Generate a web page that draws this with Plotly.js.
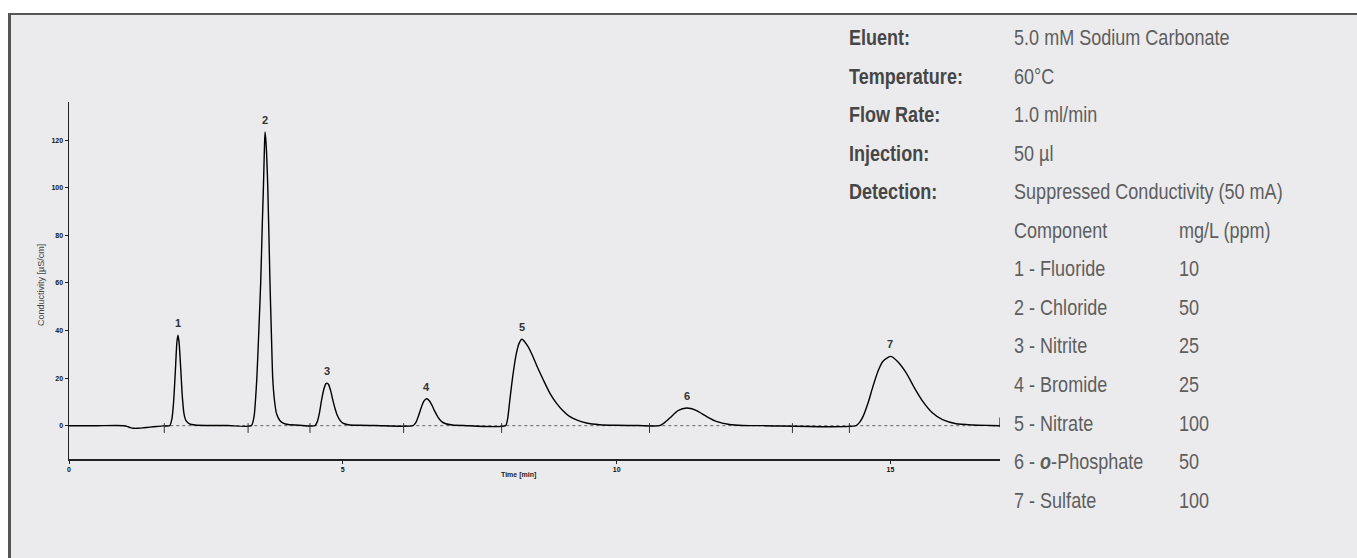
<!DOCTYPE html>
<html>
<head>
<meta charset="utf-8">
<script src="https://cdn.plot.ly/plotly-3.0.1.min.js"></script>
<style>html,body{margin:0;padding:0;background:#fff;}#chart{width:1357px;height:558px;}</style>
</head>
<body>
<div id="chart"></div>
<script>
// ---- Data ----
const timeMin = [
  0, 0.5, 1.0, 1.06, 1.12, 1.18, 1.26, 1.36, 1.48, 1.6, 1.72, 1.84,
  1.88, 1.91, 1.94, 1.97, 1.99, 2.01, 2.04, 2.07, 2.10, 2.14, 2.20, 2.30, 2.50, 2.9, 3.33,
  3.38, 3.43, 3.47, 3.50, 3.53, 3.55, 3.57, 3.58, 3.60, 3.63, 3.67, 3.70, 3.72, 3.75, 3.79, 3.85, 3.92, 4.00, 4.20, 4.49,
  4.53, 4.57, 4.61, 4.65, 4.69, 4.71, 4.74, 4.78, 4.82, 4.86, 4.90, 4.95, 5.00, 5.10, 5.30, 5.60, 6.28,
  6.33, 6.38, 6.43, 6.48, 6.53, 6.58, 6.63, 6.68, 6.74, 6.80, 6.88, 7.00, 7.20, 7.97,
  8.01, 8.05, 8.11, 8.17, 8.22, 8.27, 8.38, 8.47, 8.56, 8.66, 8.78, 8.90, 9.02, 9.14, 9.29, 9.45, 9.69, 10.0, 10.4, 10.78,
  10.87, 10.97, 11.12, 11.28, 11.45, 11.64, 11.82, 12.06, 12.30, 12.70, 14.37,
  14.44, 14.50, 14.59, 14.68, 14.77, 14.86, 15.00, 15.13, 15.29, 15.44, 15.59, 15.77, 15.95, 16.20, 16.50, 16.80, 17.0
];
const conductivity = [
  0, 0, 0, -0.3, -0.8, -1.1, -1.1, -0.9, -0.6, -0.35, -0.1, 0,
  3, 10, 22, 35, 38, 35, 24, 12, 5, 2, 0.8, 0.3, 0.1, 0.05, 0,
  4, 20, 42, 60, 85, 100, 118, 123.4, 118, 100, 60, 35, 20, 11, 5, 2.2, 1, 0.5, 0.2, 0,
  1.5, 5, 10.5, 15, 17.6, 17.9, 17.3, 14.5, 10.5, 7, 4.3, 2.2, 1.1, 0.4, 0.15, 0.05, 0,
  1.2, 4, 7.5, 10.3, 11.3, 10.5, 8.5, 6, 3.5, 1.8, 0.8, 0.3, 0.1, 0,
  3, 10.9, 22, 30.5, 34.7, 36.3, 33.3, 29.1, 24.2, 19.3, 13.7, 9.5, 6.3, 3.9, 2.2, 1.1, 0.4, 0.15, 0.05, 0,
  1.2, 3.2, 6.3, 7.4, 6.4, 3.9, 1.8, 0.5, 0.1, 0, 0,
  1.5, 3.9, 9.5, 16.5, 22.8, 27, 29.1, 27, 22.1, 15.8, 10.2, 5.3, 2.5, 0.8, 0.3, 0.1, 0
];
const peakNumbers = ["1", "2", "3", "4", "5", "6", "7"];
const peakTimes   = [1.99, 3.58, 4.71, 6.53, 8.27, 11.28, 15.0];
const peakHeights = [38, 123.4, 17.9, 11.3, 36.3, 7.4, 29.1];
const integrationMarks = [1.74, 3.27, 4.40, 6.11, 7.90, 10.60, 13.21, 14.25];
const endMark = [17.0];
const baselineTimes = [1.74, 17.0];
const baselineValues = [0, 0];
const yTicks = [0, 20, 40, 60, 80, 100, 120];
const xTicks = [0, 5, 10, 15];

const methodLabels = ["Eluent:", "Temperature:", "Flow Rate:", "Injection:", "Detection:"];
const methodValues = ["5.0 mM Sodium Carbonate", "60°C", "1.0 ml/min", "50 µl", "Suppressed Conductivity (50 mA)"];
const tableHeader = ["Component", "mg/L (ppm)"];
const components = ["1 - Fluoride", "2 - Chloride", "3 - Nitrite", "4 - Bromide", "5 - Nitrate", "6 - <b><i>o</i></b>-Phosphate", "7 - Sulfate"];
const concentrations = ["10", "50", "25", "25", "100", "50", "100"];

// ---- Layout helpers ----
const W = 1357, H = 558;
const px = x => x / W;
const py = y => 1 - y / H;
const textFont = "'Liberation Sans', Arial, sans-serif";
const axisFont = "'Liberation Sans', Arial, sans-serif";

const traces = [
  {x: baselineTimes, y: baselineValues, mode: 'lines', line: {color: '#666', width: 1, dash: 'dot'}, hoverinfo: 'skip'},
  {x: timeMin, y: conductivity, mode: 'lines', line: {color: '#000', width: 1.4, shape: 'spline', smoothing: 0.6}},
  {x: integrationMarks, y: integrationMarks.map(() => -1), mode: 'markers',
   marker: {symbol: 'line-ns', size: 7, color: '#333', line: {width: 1, color: '#333'}}, hoverinfo: 'skip'},
  {x: endMark, y: [1.4], mode: 'markers',
   marker: {symbol: 'line-ns', size: 7, color: '#222', line: {width: 1.2, color: '#222'}}, hoverinfo: 'skip'}
];

const annotations = [];
peakNumbers.forEach((n, i) => annotations.push({
  x: peakTimes[i], y: peakHeights[i], xref: 'x', yref: 'y', text: '<b>' + n + '</b>', showarrow: false,
  yshift: 12, font: {family: axisFont, size: 11, color: '#333'}
}));
const narrowStart = annotations.length;
const rowY0 = 37.5, rowStep = 38.55;
methodLabels.forEach((t, i) => {
  annotations.push({x: px(847), y: py(rowY0 + i * rowStep), xref: 'paper', yref: 'paper', xanchor: 'left', yanchor: 'middle',
    text: '<b>' + t + '</b>', showarrow: false, font: {family: textFont, size: 22, color: '#464646'}});
  annotations.push({x: px(1012), y: py(rowY0 + i * rowStep), xref: 'paper', yref: 'paper', xanchor: 'left', yanchor: 'middle',
    text: methodValues[i], showarrow: false, font: {family: textFont, size: 22, color: '#5e5e5e'}});
});
const tableRows = [tableHeader].concat(components.map((c, i) => [c, concentrations[i]]));
tableRows.forEach((r, i) => {
  const yy = py(rowY0 + (i + 5) * rowStep);
  annotations.push({x: px(1012), y: yy, xref: 'paper', yref: 'paper', xanchor: 'left', yanchor: 'middle',
    text: r[0], showarrow: false, font: {family: textFont, size: 22, color: '#5e5e5e'}});
  annotations.push({x: px(1177), y: yy, xref: 'paper', yref: 'paper', xanchor: 'left', yanchor: 'middle',
    text: r[1], showarrow: false, font: {family: textFont, size: 22, color: '#5e5e5e'}});
});
const narrowEnd = annotations.length;
annotations.push({x: px(518), y: py(481), xref: 'paper', yref: 'paper', text: '<b>Time [min]</b>', showarrow: false,
  font: {family: axisFont, size: 7, color: '#222'}});
annotations.push({x: px(34), y: py(285), xref: 'paper', yref: 'paper', text: 'Conductivity [µS/cm]', textangle: -90, showarrow: false,
  font: {family: axisFont, size: 9, color: '#444'}});

const layout = {
  width: W, height: H,
  margin: {l: 0, r: 0, t: 0, b: 0, pad: 0},
  paper_bgcolor: '#EBEBED', plot_bgcolor: 'rgba(0,0,0,0)',
  showlegend: false,
  xaxis: {domain: [px(69), px(1000)], range: [0, 17], showgrid: false, zeroline: false,
    showline: true, linecolor: '#222', linewidth: 1.5, ticks: 'outside', ticklen: 3, tickwidth: 1, tickcolor: '#222',
    tickvals: xTicks, ticktext: xTicks.map(String), tickfont: {family: axisFont, size: 7, color: '#111', weight: 'bold'}},
  yaxis: {domain: [py(459), py(102)], range: [-14, 136], showgrid: false, zeroline: false,
    showline: true, linecolor: '#222', linewidth: 1.5, ticks: 'outside', ticklen: 3, tickwidth: 1, tickcolor: '#222',
    tickvals: yTicks, ticktext: yTicks.map(String), tickfont: {family: axisFont, size: 7, color: '#111', weight: 'bold'}},
  shapes: [
    {type: 'rect', xref: 'paper', yref: 'paper', x0: 0, x1: 1, y0: py(13), y1: 1, fillcolor: '#fff', line: {width: 0}, layer: 'below'},
    {type: 'rect', xref: 'paper', yref: 'paper', x0: 0, x1: px(8), y0: 0, y1: 1, fillcolor: '#fff', line: {width: 0}, layer: 'below'},
    {type: 'rect', xref: 'paper', yref: 'paper', x0: px(8), x1: 1, y0: py(15), y1: py(13), fillcolor: '#555', line: {width: 0}},
    {type: 'rect', xref: 'paper', yref: 'paper', x0: px(8), x1: px(11), y0: 0, y1: py(13), fillcolor: '#555', line: {width: 0}}
  ],
  annotations: annotations
};

function condense() {
  document.querySelectorAll('#chart .annotation').forEach(g => {
    const idx = +g.getAttribute('data-index');
    if (idx >= narrowStart && idx < narrowEnd) {
      const t = g.querySelector('text');
      if (t) {
        t.style.transformBox = 'fill-box';
        t.style.transformOrigin = '0 50%';
        t.style.transform = 'scaleX(0.82)';
      }
    }
  });
}
Plotly.newPlot('chart', traces, layout, {displayModeBar: false, staticPlot: true}).then(condense);
</script>
</body>
</html>
